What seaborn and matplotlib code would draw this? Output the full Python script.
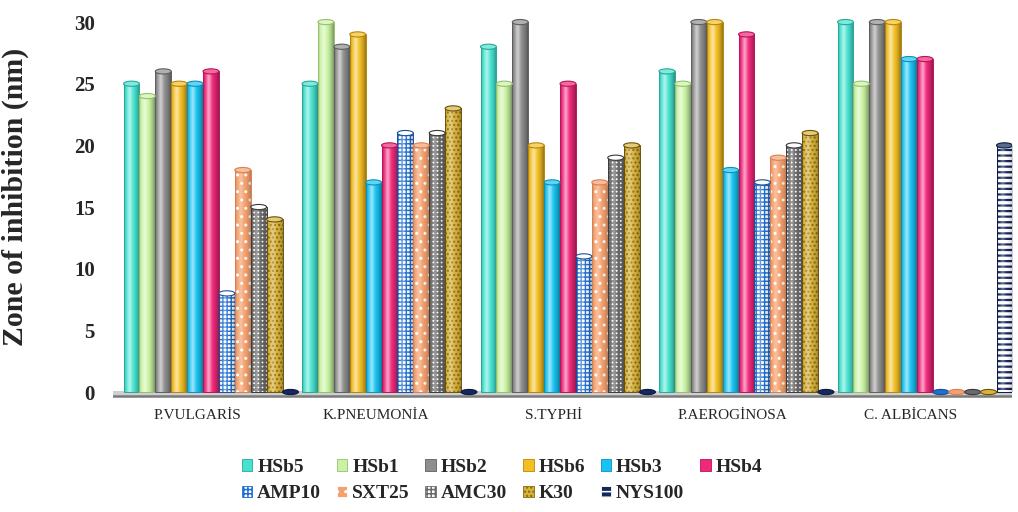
import numpy as np
import pandas as pd
import matplotlib
matplotlib.use("Agg")
import matplotlib.pyplot as plt
import matplotlib.colors as mcolors
from matplotlib.patches import Ellipse, Rectangle, Patch
from matplotlib.transforms import ScaledTranslation
import seaborn as sns

# ---- data -------------------------------------------------------------
organisms = ["P.VULGARİS", "K.PNEUMONİA", "S.TYPHİ", "P.AEROGİNOSA", "C. ALBİCANS"]
agents = ["HSb5", "HSb1", "HSb2", "HSb6", "HSb3", "HSb4",
          "AMP10", "SXT25", "AMC30", "K30", "NYS100"]

hsb5 = [25, 25, 28, 26, 30]
hsb1 = [24, 30, 25, 25, 25]
hsb2 = [26, 28, 30, 30, 30]
hsb6 = [25, 29, 20, 30, 30]
hsb3 = [25, 17, 17, 18, 27]
hsb4 = [26, 20, 25, 29, 27]
amp10 = [8, 21, 11, 17, 0]
sxt25 = [18, 20, 17, 19, 0]
amc30 = [15, 21, 19, 20, 0]
k30 = [14, 23, 20, 21, 0]
nys100 = [0, 0, 0, 0, 20]

yticks = [0, 5, 10, 15, 20, 25, 30]

series = [hsb5, hsb1, hsb2, hsb6, hsb3, hsb4, amp10, sxt25, amc30, k30, nys100]
df = pd.DataFrame(
    [(org, ag, vals[i]) for ag, vals in zip(agents, series) for i, org in enumerate(organisms)],
    columns=["organism", "agent", "zone"],
)

# ---- styles: face, hatch, hatch colour, outline -------------------------
styles = {
    "HSb5":   dict(face="#45E2D0", hatch=None,   hcol=None,      edge="#2BA898"),
    "HSb1":   dict(face="#C9F3A2", hatch=None,   hcol=None,      edge="#97C070"),
    "HSb2":   dict(face="#8E8E8E", hatch=None,   hcol=None,      edge="#5E5E5E"),
    "HSb6":   dict(face="#F3BF22", hatch=None,   hcol=None,      edge="#B8860B"),
    "HSb3":   dict(face="#16C3F2", hatch=None,   hcol=None,      edge="#0E8FB8"),
    "HSb4":   dict(face="#F0287A", hatch=None,   hcol=None,      edge="#B81456"),
    "AMP10":  dict(face="#FFFFFF", hatch="++++", hcol="#1F6FD0", edge="#1A4F9A", hlw=1.0),
    "SXT25":  dict(face="#F5A16E", hatch="..",   hcol="#FFFFFF", edge="#D98050", hlw=1.0),
    "AMC30":  dict(face="#FFFFFF", hatch="++++", hcol="#6A6A6A", edge="#3A3A3A", hlw=1.7),
    "K30":    dict(face="#D9B43C", hatch="....", hcol="#8C6A12", edge="#6E520C", hlw=1.0),
    "NYS100": dict(face="#14285E", hatch="---",  hcol="#FFFFFF", edge="#0C1A40", hlw=2.4),
}

sns.set_style("white")
plt.rcParams["font.family"] = ["Liberation Serif", "DejaVu Serif"]
plt.rcParams["hatch.linewidth"] = 1.1

fig = plt.figure(figsize=(10.18, 5.12), dpi=100)
ax = fig.add_axes([0.111, 0.2223, 0.883, 0.7707])

sns.barplot(
    data=df, x="organism", y="zone", hue="agent",
    order=organisms, hue_order=agents,
    palette=[styles[a]["face"] for a in agents],
    width=0.98, gap=0.0, saturation=1, legend=False, errorbar=None, ax=ax,
)

# horizontal gradient that gives each bar a rounded, cylindrical look
t = np.linspace(0, 1, 96)
white = np.zeros((1, t.size, 4))
white[..., :3] = 1.0
white[0, :, 3] = 0.55 * np.exp(-((t - 0.36) / 0.16) ** 2)
black = np.zeros((1, t.size, 4))
black[0, :, 3] = 0.38 * np.clip((t - 0.55) / 0.45, 0, 1) ** 1.6 + 0.22 * np.clip((0.14 - t) / 0.14, 0, 1)

cap_h = 0.42
for agent, container in zip(agents, ax.containers):
    st = styles[agent]
    for bar in container:
        bar.set_zorder(2)
        if st["hatch"]:
            bar.set_hatch(st["hatch"])
            bar.set_edgecolor(st["hcol"])
            bar.set_linewidth(0)
            if hasattr(bar, "set_hatch_linewidth"):
                bar.set_hatch_linewidth(st["hlw"])
        else:
            bar.set_edgecolor("none")
            bar.set_linewidth(0)
        x0, w, h = bar.get_x(), bar.get_width(), bar.get_height()
        if h > 0:
            k = 0.6 if st["hatch"] else 1.0
            for grad in (black, white):
                g = grad.copy()
                g[0, :, 3] *= k
                im = ax.imshow(g, extent=(x0, x0 + w, 0, h), aspect="auto",
                               interpolation="bilinear", zorder=2.2)
                im.set_clip_path(bar)
            ax.add_patch(Rectangle((x0, 0), w, h, fill=False,
                                   edgecolor=st["edge"], linewidth=0.7, zorder=2.4))
            cap_face = tuple(0.7 * c + 0.3 for c in mcolors.to_rgb(st["face"]))
        else:
            # empty zone: only a flat disc on the floor
            base = st["hcol"] if st["face"] == "#FFFFFF" else st["face"]
            cap_face = mcolors.to_rgb(base)
        ax.add_patch(Ellipse((x0 + w / 2, h), w, cap_h, facecolor=cap_face,
                             edgecolor=st["edge"], linewidth=0.8, zorder=2.6))

# floor of the chart
ax.axhspan(-0.32, 0.12, color="#CFCFCF", zorder=0.5, linewidth=0)
ax.axhline(-0.32, color="#7A7A7A", linewidth=1.8, zorder=0.6)

ax.set_xlim(-0.549, 4.487)
ax.set_ylim(-0.5, 31.5)
for s in ax.spines.values():
    s.set_visible(False)

ax.set_yticks(yticks)
ax.set_yticklabels([str(v) for v in yticks], fontsize=15, fontweight="bold")
ax.tick_params(axis="y", length=0, pad=13)
ax.tick_params(axis="x", length=0, pad=8, labelsize=11)
shift = ScaledTranslation(-0.14, 0, fig.dpi_scale_trans)
for lab in ax.get_xticklabels():
    lab.set_transform(lab.get_transform() + shift)

ax.set_xlabel("")
ax.set_ylabel("Zone of inhibition (nm)", fontsize=21.5, fontweight="bold")
ax.yaxis.set_label_coords(-0.094, 0.51)

# legend laid out row by row (6 + 5 entries)
handles = {
    a: Patch(facecolor=styles[a]["face"], hatch=styles[a]["hatch"],
             edgecolor=styles[a]["hcol"] or styles[a]["edge"], linewidth=0.6, label=a)
    for a in agents
}
order = ["HSb5", "AMP10", "HSb1", "SXT25", "HSb2", "AMC30",
         "HSb6", "K30", "HSb3", "NYS100", "HSb4"]
fig.legend([handles[a] for a in order], order, loc="center",
           bbox_to_anchor=(0.493, 0.0615), ncol=6, frameon=False,
           prop=dict(family="Liberation Serif", weight="bold", size=14),
           handlelength=0.55, handleheight=0.55, handletextpad=0.25,
           columnspacing=0.8, labelspacing=0.5)

fig.savefig("out.png", dpi=100)
